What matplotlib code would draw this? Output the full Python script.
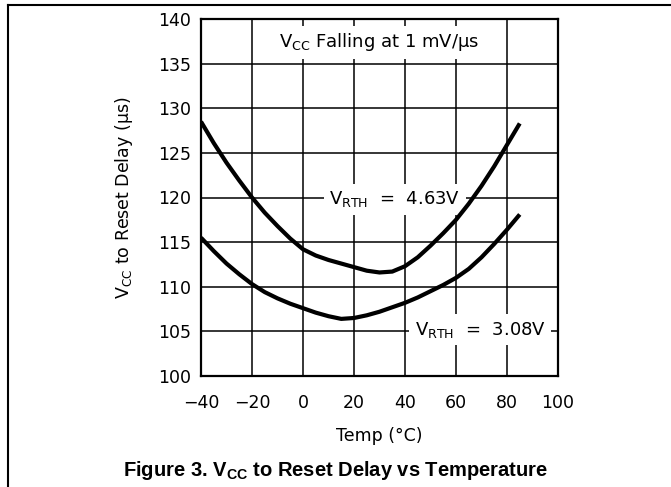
import matplotlib
matplotlib.use("Agg")
import matplotlib.pyplot as plt
from matplotlib.lines import Line2D

# temperature (degC) vs reset delay (us)
temp = [-40, -35, -30, -25, -20, -15, -10, -5, 0, 5, 10, 15, 20,
        25, 30, 35, 40, 45, 50, 55, 60, 65, 70, 75, 80, 85]
delay_463 = [128.5, 126.1, 123.9, 121.9, 120.0, 118.3, 116.8, 115.4, 114.2, 113.5,
             113.0, 112.6, 112.2, 111.8, 111.6, 111.7, 112.3, 113.3, 114.6, 116.0,
             117.5, 119.3, 121.3, 123.5, 125.9, 128.3]
delay_308 = [115.5, 114.0, 112.6, 111.4, 110.3, 109.4, 108.7, 108.1, 107.6, 107.1,
             106.7, 106.4, 106.5, 106.8, 107.2, 107.7, 108.2, 108.8, 109.5, 110.2,
             111.0, 112.0, 113.3, 114.8, 116.4, 118.1]

xticks = [-40, -20, 0, 20, 40, 60, 80, 100]
yticks = [100, 105, 110, 115, 120, 125, 130, 135, 140]

plt.rcParams["font.family"] = ["DejaVu Sans"]
plt.rcParams["mathtext.default"] = "regular"

fig = plt.figure(figsize=(6.71, 4.87), dpi=100)
ax = fig.add_axes([201 / 671, 1 - 376 / 487, 357 / 671, 357 / 487])

for d in (delay_463, delay_308):
    ax.plot(temp, d, color="black", lw=3.0, solid_joinstyle="round",
            solid_capstyle="butt", zorder=3)

ax.set_xlim(-40, 100)
ax.set_ylim(100, 140)
ax.set_xticks(xticks)
ax.set_yticks(yticks)
ax.tick_params(length=0, labelsize=12.5)
ax.tick_params(axis="x", pad=13)
ax.tick_params(axis="y", pad=7)
ax.grid(True, color="black", lw=1.1, zorder=1)
ax.set_axisbelow(True)
for s in ax.spines.values():
    s.set_linewidth(1.6)

ax.set_xlabel("Temp (°C)", fontsize=12.5, labelpad=11)
ax.set_ylabel("V$_{CC}$ to Reset Delay ($\\mu$s)", fontsize=12.5, labelpad=17)

# labels sit over the grid but under the curves
box = dict(facecolor="white", edgecolor="none", pad=4)
ax.text(30, 137.4, "V$_{CC}$ Falling at 1 mV/$\\mu$s", fontsize=13,
        ha="center", va="center", bbox=dict(facecolor="white", edgecolor="none",
                                             boxstyle="square,pad=0.3"), zorder=2)
ax.text(36, 119.8, "V$_{RTH}$  =  4.63V", fontsize=13, ha="center", va="center",
        bbox=box, zorder=2)
ax.text(69.5, 105.2, "V$_{RTH}$  =  3.08V", fontsize=13, ha="center", va="center",
        bbox=box, zorder=2)

fig.text(0.5, 1 - 470 / 487, "Figure 3. V$_{CC}$ to Reset Delay vs Temperature",
         ha="center", va="center", fontsize=14.5, fontweight="bold",
         family="Liberation Sans")

# page frame
fig.add_artist(Line2D([8 / 671, 1], [1 - 5 / 487] * 2, color="black", lw=1.5,
                      transform=fig.transFigure))
fig.add_artist(Line2D([8 / 671] * 2, [0, 1 - 5 / 487], color="black", lw=1.5,
                      transform=fig.transFigure))

fig.savefig("out.png", dpi=100)
